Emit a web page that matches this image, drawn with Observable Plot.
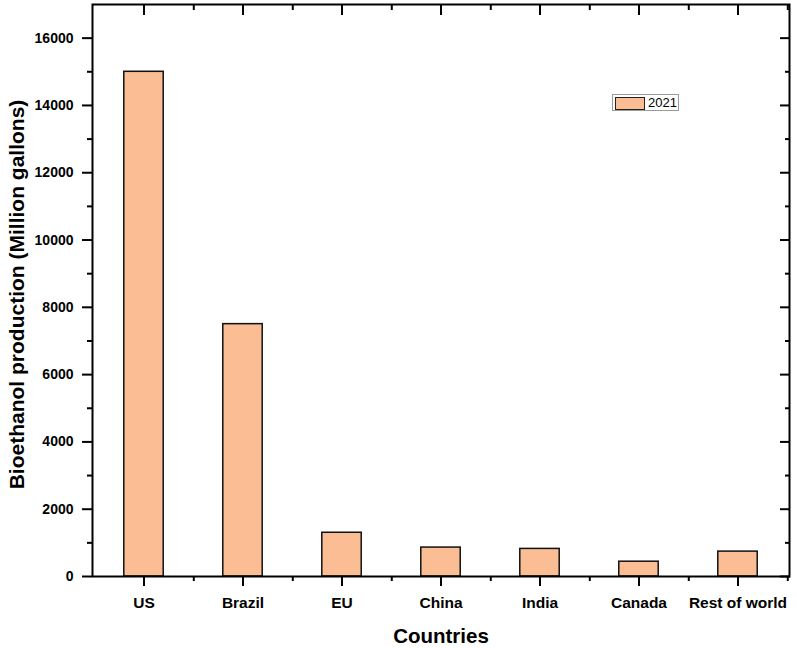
<!DOCTYPE html>
<html>
<head>
<meta charset="utf-8">
<script src="https://cdn.jsdelivr.net/npm/d3@7"></script>
<script src="https://cdn.jsdelivr.net/npm/@observablehq/plot@0.6"></script>
<style>
  body { margin: 0; background: #fff; }
  #chart { position: relative; width: 797px; height: 648px; font-family: "Liberation Sans", Arial, sans-serif; }
  .legend { position: absolute; left: 612px; top: 94px; width: 67px; height: 17px; border: 1px solid #9a9a9a; background: #fff; box-sizing: border-box; }
  .legend .sw { position: absolute; left: 2px; top: 2px; width: 30px; height: 13px; background: #fbbd93; border: 1.5px solid #222; box-sizing: border-box; }
  .legend .lb { position: absolute; left: 35px; top: 0px; font-size: 13px; line-height: 16px; color: #000; }
</style>
</head>
<body>
<div id="chart"></div>
<script>
const countries = ["US", "Brazil", "EU", "China", "India", "Canada", "Rest of world"];
const production2021 = [15000, 7500, 1300, 860, 820, 440, 740];
const yMajorTicks = [0, 2000, 4000, 6000, 8000, 10000, 12000, 14000, 16000];
const yMinorTicks = [1000, 3000, 5000, 7000, 9000, 11000, 13000, 15000];
const seriesName = "2021";
const barColor = "#fbbd93";

const data = countries.map((c, i) => ({country: c, value: production2021[i]}));

const W = 797, H = 648, mL = 92, mR = 8, mT = 4, mB = 72;
const halfStep = (W - mL - mR) / countries.length / 2;
const blank = () => "";

const chart = Plot.plot({
  width: W,
  height: H,
  marginLeft: mL,
  marginRight: mR,
  marginTop: mT,
  marginBottom: mB,
  style: {fontFamily: "'Liberation Sans', Arial, sans-serif", color: "#000", background: "#fff"},
  x: {type: "band", domain: countries, padding: 0, axis: null},
  y: {domain: [0, 17000], axis: null},
  marks: [
    Plot.barY(data, {x: "country", y: "value", fill: barColor, stroke: "#111", strokeWidth: 1.5, insetLeft: halfStep - 20, insetRight: halfStep - 20}),
    // left axis
    Plot.axisY({anchor: "left", ticks: yMajorTicks, tickSize: 10, tickPadding: 9, strokeWidth: 2, fontSize: 14, fontWeight: "bold", tickFormat: d => String(d), label: null}),
    Plot.axisY({anchor: "left", ticks: yMinorTicks, tickSize: 5, strokeWidth: 2, tickFormat: blank, label: null}),
    // right axis (inward)
    Plot.axisY({anchor: "right", ticks: yMajorTicks, tickSize: 10, dx: -10, strokeWidth: 2, tickFormat: blank, label: null}),
    Plot.axisY({anchor: "right", ticks: yMinorTicks, tickSize: 5, dx: -5, strokeWidth: 2, tickFormat: blank, label: null}),
    // bottom axis
    Plot.axisX({anchor: "bottom", tickSize: 10, tickPadding: 10, strokeWidth: 2, fontSize: 15.5, fontWeight: "bold", label: null}),
    Plot.axisX({anchor: "bottom", tickSize: 5, dx: halfStep, strokeWidth: 2, tickFormat: blank, label: null}),
    // top axis (inward)
    Plot.axisX({anchor: "top", tickSize: 10, dy: 10, strokeWidth: 2, tickFormat: blank, label: null}),
    Plot.axisX({anchor: "top", tickSize: 5, dy: 5, dx: halfStep, strokeWidth: 2, tickFormat: blank, label: null}),
    Plot.frame({stroke: "#000", strokeWidth: 2}),
    // axis titles
    Plot.text(["Countries"], {frameAnchor: "bottom", dy: 66, lineAnchor: "bottom", textAnchor: "middle", fontSize: 20.5, fontWeight: "bold", fill: "#000"}),
    Plot.text(["Bioethanol production (Million gallons)"], {frameAnchor: "left", dx: -75, dy: 4, rotate: -90, textAnchor: "middle", lineAnchor: "middle", fontSize: 21, fontWeight: "bold", fill: "#000"})
  ]
});

const root = document.getElementById("chart");
root.appendChild(chart);
const legend = document.createElement("div");
legend.className = "legend";
legend.innerHTML = `<div class="sw"></div><div class="lb">${seriesName}</div>`;
root.appendChild(legend);
</script>
</body>
</html>
